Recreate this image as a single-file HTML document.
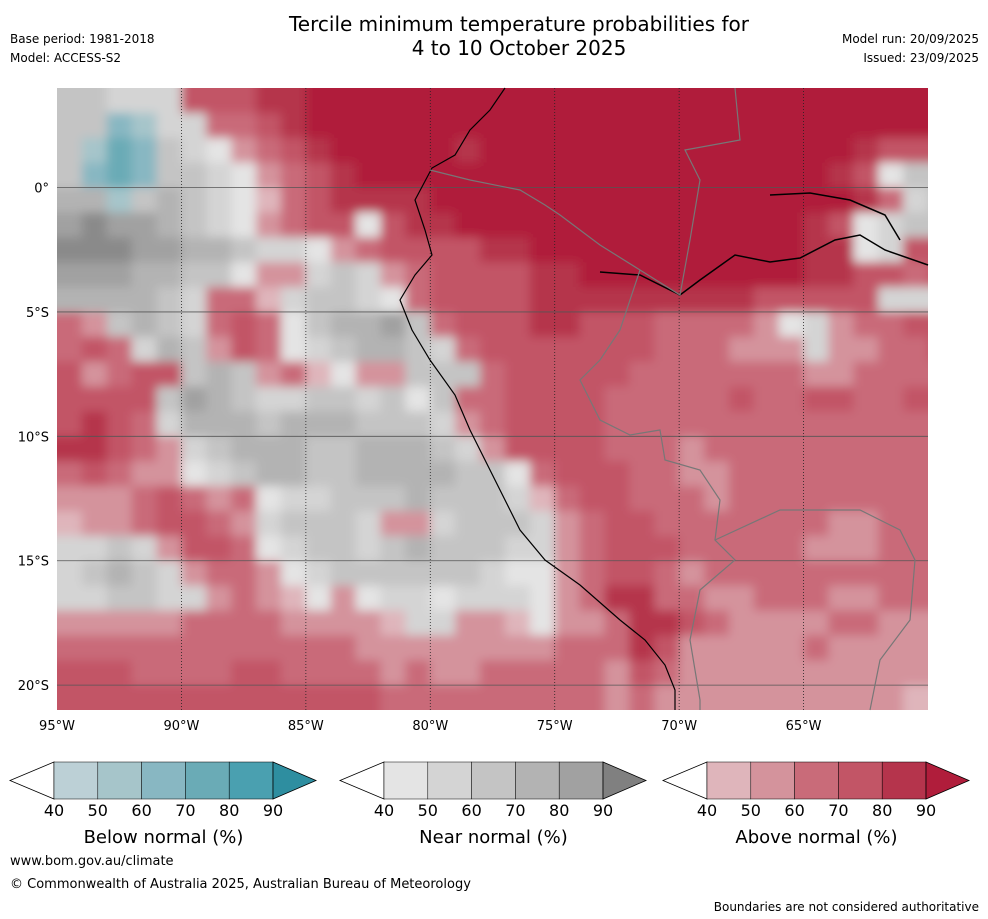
<!DOCTYPE html>
<html><head><meta charset="utf-8">
<style>
body{margin:0;background:#fff;width:988px;height:919px;overflow:hidden;font-family:"DejaVu Sans","Liberation Sans",sans-serif;}
svg{display:block}
</style></head>
<body>
<svg id="chart" width="988" height="919" viewBox="0 0 988 919" xmlns="http://www.w3.org/2000/svg">
<defs>
<clipPath id="mapclip"><rect x="57" y="88" width="871" height="622"/></clipPath>
<filter id="soft" x="-5%" y="-5%" width="110%" height="110%"><feGaussianBlur stdDeviation="5"/></filter>
</defs>
<rect width="988" height="919" fill="#fff"/>
<text x="519" y="31" font-size="20" text-anchor="middle">Tercile minimum temperature probabilities for</text>
<text x="519" y="55" font-size="20" text-anchor="middle">4 to 10 October 2025</text>
<text x="10" y="43" font-size="12">Base period: 1981-2018</text>
<text x="10" y="62" font-size="12">Model: ACCESS-S2</text>
<text x="979" y="43" font-size="12" text-anchor="end">Model run: 20/09/2025</text>
<text x="979" y="62" font-size="12" text-anchor="end">Issued: 23/09/2025</text>
<g clip-path="url(#mapclip)"><g id="cells" filter="url(#soft)"></g></g>
<g id="grid"></g>
<polyline fill="none" stroke="#000" stroke-width="1.2" points="505,88 490,110 470,130 455,155 432,168 415,200 425,230 432,255 415,275 400,300 412,330 430,360 455,395 470,430 490,470 505,500 520,530 545,560 580,585 620,620 645,640 665,665 675,690 675,710"/>
<polyline fill="none" stroke="#000" stroke-width="1.5" points="600,272 640,275 680,295 700,280 735,255 770,262 800,258 835,240 860,235 885,250 928,265"/>
<polyline fill="none" stroke="#000" stroke-width="1.5" points="770,195 810,193 850,200 885,215 900,240"/>
<polyline fill="none" stroke="#777" stroke-width="1.2" points="430,170 470,180 520,190 545,205 560,215 600,245 640,270 680,295 690,240 700,180 685,150 740,140 735,88"/>
<polyline fill="none" stroke="#777" stroke-width="1.2" points="640,270 620,330 600,360 580,380 600,420 630,435 660,430 665,460 700,470 720,500 715,540 735,560 700,590 690,640 700,700 700,710"/>
<polyline fill="none" stroke="#777" stroke-width="1.2" points="715,540 780,510 860,510 900,530 915,560 910,620 880,660 870,710"/>
<g id="axes"></g>
<g id="legends"></g>
<text x="10" y="865" font-size="13">www.bom.gov.au/climate</text>
<text x="10" y="888" font-size="13">© Commonwealth of Australia 2025, Australian Bureau of Meteorology</text>
<text x="979" y="911" font-size="12" text-anchor="end">Boundaries are not considered authoritative</text>
</svg>
<script>
const lonTicks=[-95,-90,-85,-80,-75,-70,-65];
const lonLabels=["95°W","90°W","85°W","80°W","75°W","70°W","65°W"];
const latTicks=[0,-5,-10,-15,-20];
const latLabels=["0°","5°S","10°S","15°S","20°S"];
const legendTicks=["40","50","60","70","80","90"];
const gridRows=[
"ccbbb44455666666666666666666666666",
"ccCBbb33456666666666666666666666666",
"cBDCcba2345666665666666666666666544",
"cCDCccba234566666666666666666665 4ac",
"ddBcdcba134555566666666666666666 53bc",
"efeedcba2344a4556666666666666654abc",
"fffeeddcbba234444556666666666655ab4",
"eeeddcca22bcb23444455666666666554434",
"ddddcb331bccba3444455555555544444bb",
"32cdcb343acddec34445544433332ab2334",
"343bdc243abcddcb34444444333222b22334",
"42344cdc231a22ccc34444433333332233333",
"4444cedcbbccbcac334444333334334433 4",
"4543bdddcdddcccb23444433333333333333",
"55432bcdddccdddcb2444433323333333333",
"34322abcddccddddcca34443322333333333",
"22234327abbcccdcccb13443332333333333",
"1223443 2bcccb22bcccb2344333333322 33",
"bbcb2443abccbcdcccbb2344433333222 33",
"bcdcb2332abccccccbaa2344323333333333",
"bbccbb2321a2abbabbba23553322 33322 33",
"22222333322221bb2 21a22355432222332222",
"33333333333322222222333542222232222",
"44433334433332322333332432222222222",
"44444444444443333333332322222222221"];
const palette={A:"#bcd0d6",B:"#a6c5ca",C:"#88b7c2",D:"#6aabb6",E:"#4aa0b0",F:"#2e8ea0",
a:"#e4e4e4",b:"#d4d4d4",c:"#c4c4c4",d:"#b3b3b3",e:"#a1a1a1",f:"#8a8a8a",
"1":"#dfb5bb","2":"#d4939c","3":"#c96b79","4":"#c25566","5":"#b5344c","6":"#b01d3b"};
const below=["#bcd0d6","#a6c5ca","#88b7c2","#6aabb6","#4aa0b0"],belowExt="#2e8ea0";
const near=["#e4e4e4","#d4d4d4","#c4c4c4","#b3b3b3","#a1a1a1"],nearExt="#808080";
const above=["#dfb5bb","#d4939c","#c96b79","#c25566","#b5344c"],aboveExt="#b01d3b";
const NS="http://www.w3.org/2000/svg";
const X0=57,X1=928,Y0=88,Y1=710,LON0=-95,LON1=-60,LAT0=4,LAT1=-21;
function xs(lon){return X0+(lon-LON0)/(LON1-LON0)*(X1-X0);}
function ys(lat){return Y0+(LAT0-lat)/(LAT0-LAT1)*(Y1-Y0);}
function mk(tag,attrs,parent){const e=document.createElementNS(NS,tag);for(const k in attrs)e.setAttribute(k,attrs[k]);parent.appendChild(e);return e;}
const cells=document.getElementById('cells');
mk('rect',{x:X0-20,y:Y0-20,width:X1-X0+40,height:Y1-Y0+40,fill:"#c96b79"},cells);
gridRows.forEach((row,j)=>{
  const s=row.replace(/ /g,'');
  for(let i=-1;i<=35;i++){
    const ch=s[Math.max(0,Math.min(i,s.length-1))];
    const lon=LON0+i,lat=LAT0-j;
    const extraTop=(j===0)?20:0, extraBot=(j===gridRows.length-1)?20:0;
    const r=mk('rect',{x:xs(lon),y:ys(lat)-extraTop,width:xs(lon+1)-xs(lon)+0.6,height:ys(lat-1)-ys(lat)+0.6+extraTop+extraBot,fill:palette[ch]||"#c96b79"},cells);
    
    
  }
});
const grid=document.getElementById('grid');
latTicks.forEach(l=>{const e=mk('line',{x1:X0,x2:X1,y1:ys(l),y2:ys(l),stroke:"#555","stroke-width":0.8},grid);

});
lonTicks.slice(1).forEach(l=>{const e=mk('line',{x1:xs(l),x2:xs(l),y1:Y0,y2:Y1,stroke:"#222","stroke-width":0.8,"stroke-dasharray":"1,2"},grid);

});
const axes=document.getElementById('axes');
lonTicks.forEach((l,i)=>{const t=mk('text',{x:xs(l),y:730,"font-size":13,"text-anchor":"middle"},axes);t.textContent=lonLabels[i];

});
latTicks.forEach((l,i)=>{const t=mk('text',{x:49,y:ys(l)+5,"font-size":13,"text-anchor":"end"},axes);t.textContent=latLabels[i];

});
const lg=document.getElementById('legends');
function legend(x0,cols,ext,title,name){
  const g=mk('g',{},lg);
  
  
  const bx=x0+44,w=43.8,y0=762,y1=799,ym=780.5;
  mk('polygon',{points:`${x0},${ym} ${bx},${y0} ${bx},${y1}`,fill:"#fff",stroke:"#000","stroke-width":0.8},g);
  cols.forEach((c,i)=>{const r=mk('rect',{x:bx+i*w,y:y0,width:w,height:y1-y0,fill:c,stroke:"#000","stroke-width":0.5},g);
    
    });
  const ex=bx+5*w;
  mk('polygon',{points:`${ex},${y0} ${ex+43},${ym} ${ex},${y1}`,fill:ext,stroke:"#000","stroke-width":0.8},g);
  legendTicks.forEach((t,i)=>{const e=mk('text',{x:bx+i*w,y:816,"font-size":16,"text-anchor":"middle"},g);
    e.textContent=t;
    
    });
  const t=mk('text',{x:bx+2.5*w,y:843,"font-size":18,"text-anchor":"middle"},g);t.textContent=title;
  
  
}
legend(10,below,belowExt,"Below normal (%)","below-normal-legend");
legend(340,near,nearExt,"Near normal (%)","near-normal-legend");
legend(663,above,aboveExt,"Above normal (%)","above-normal-legend");
</script>
</body></html>
